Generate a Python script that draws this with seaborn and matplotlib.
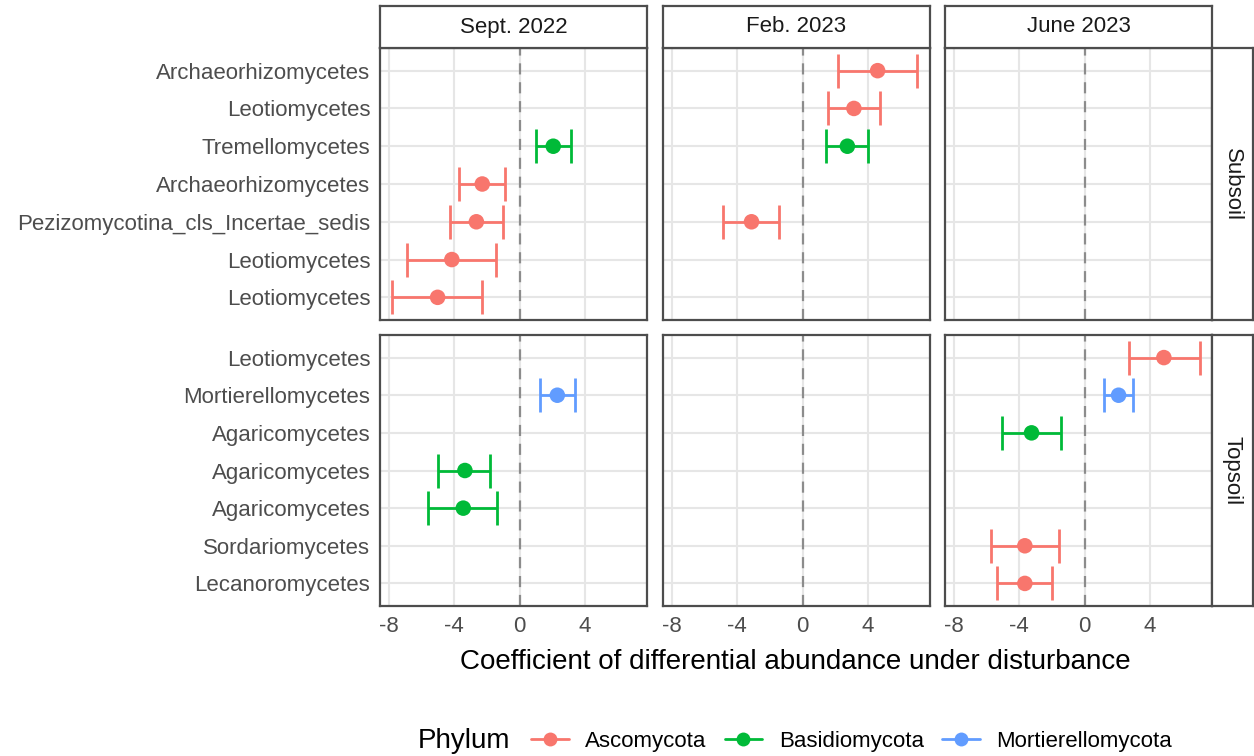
import numpy as np
import pandas as pd
import matplotlib
matplotlib.use("Agg")
import matplotlib.pyplot as plt
from matplotlib.lines import Line2D
import seaborn as sns

# ---------------- data ----------------
depths = ["Subsoil", "Topsoil"]
periods = ["Sept. 2022", "Feb. 2023", "June 2023"]

subsoil_labels = ["Archaeorhizomycetes", "Leotiomycetes", "Tremellomycetes",
                  "Archaeorhizomycetes", "Pezizomycotina_cls_Incertae_sedis",
                  "Leotiomycetes", "Leotiomycetes"]
topsoil_labels = ["Leotiomycetes", "Mortierellomycetes", "Agaricomycetes",
                  "Agaricomycetes", "Agaricomycetes", "Sordariomycetes",
                  "Lecanoromycetes"]

depth = ["Subsoil"] * 9 + ["Topsoil"] * 8
period = (["Sept. 2022"] * 5 + ["Feb. 2023"] * 4 +
          ["Sept. 2022"] * 3 + ["June 2023"] * 5)
row = [2, 3, 4, 5, 6, 0, 1, 2, 4, 1, 3, 4, 0, 1, 2, 5, 6]
phylum = ["Basidiomycota", "Ascomycota", "Ascomycota", "Ascomycota", "Ascomycota",
          "Ascomycota", "Ascomycota", "Basidiomycota", "Ascomycota",
          "Mortierellomycota", "Basidiomycota", "Basidiomycota",
          "Ascomycota", "Mortierellomycota", "Basidiomycota", "Ascomycota", "Ascomycota"]
coef = [2.05, -2.29, -2.65, -4.15, -5.02,
        4.58, 3.13, 2.73, -3.13,
        2.30, -3.35, -3.45,
        4.84, 2.07, -3.25, -3.66, -3.66]
lower = [0.98, -3.71, -4.27, -6.90, -7.80,
         2.16, 1.55, 1.45, -4.85,
         1.24, -4.97, -5.58,
         2.68, 1.18, -5.08, -5.75, -5.34]
upper = [3.14, -0.88, -1.04, -1.44, -2.29,
         7.00, 4.75, 4.00, -1.42,
         3.37, -1.80, -1.38,
         7.04, 2.95, -1.42, -1.59, -2.03]

phyla = ["Ascomycota", "Basidiomycota", "Mortierellomycota"]
palette = {"Ascomycota": "#F8766D", "Basidiomycota": "#00BA38",
           "Mortierellomycota": "#619CFF"}
x_ticks = [-8, -4, 0, 4]

df = pd.DataFrame({"depth": depth, "period": period, "row": row,
                   "phylum": phylum, "coef": coef, "lower": lower, "upper": upper})

# ---------------- style ----------------
sns.set_theme(style="white")
plt.rcParams["font.family"] = ["Liberation Sans", "DejaVu Sans"]

W, H = 1254, 756
fig = plt.figure(figsize=(W / 100, H / 100), dpi=100)
fig.patch.set_facecolor("white")

def px_axes(x0, y_top, w, h):
    return fig.add_axes([x0 / W, (H - y_top - h) / H, w / W, h / H])

col_x = [380, 663, 945]
col_w = 267
row_top = [48, 335]
row_h = [272, 271]

xmin = min(lower); xmax = max(upper)
pad = 0.05 * (xmax - xmin)
xlim = (xmin - pad, xmax + pad)

border_col = "#4D4D4D"
grid_col = "#E6E6E6"
tick_text = "#4D4D4D"

for r, d in enumerate(depths):
    labels = subsoil_labels if d == "Subsoil" else topsoil_labels
    for c, p in enumerate(periods):
        ax = px_axes(col_x[c], row_top[r], col_w, row_h[r])
        ax.set_facecolor("white")
        sub = df[(df.depth == d) & (df.period == p)]
        ax.set_xlim(*xlim)
        ax.set_ylim(6.6, -0.6)
        ax.set_xticks(x_ticks)
        ax.set_yticks(range(len(labels)))
        for xv in x_ticks:
            ax.axvline(xv, color=grid_col, lw=1.5, zorder=0)
        for yv in range(len(labels)):
            ax.axhline(yv, color=grid_col, lw=1.5, zorder=0)
        ax.axvline(0, color="#8C8C8C", lw=1.6, ls=(0, (5, 3.5)), zorder=1)
        for _, rr in sub.iterrows():
            ax.errorbar(rr.coef, rr.row,
                        xerr=[[rr.coef - rr.lower], [rr.upper - rr.coef]],
                        fmt="none", ecolor=palette[rr.phylum], elinewidth=2.0,
                        capsize=12, capthick=2.0, zorder=2)
        if len(sub):
            sns.scatterplot(data=sub, x="coef", y="row", hue="phylum",
                            palette=palette, s=125, edgecolor="none",
                            legend=False, ax=ax, zorder=3)
        ax.set_xlabel(""); ax.set_ylabel("")
        for s in ax.spines.values():
            s.set_color(border_col); s.set_linewidth(1.6); s.set_visible(True)
        ax.tick_params(axis="both", which="both", length=4, width=1.2,
                       color="#333333", labelcolor=tick_text, labelsize=16, pad=3)
        if c == 0:
            ax.set_yticklabels(labels)
        else:
            ax.tick_params(axis="y", left=False, labelleft=False)
        if r == 1:
            ax.set_xticklabels([str(v) for v in x_ticks])
        else:
            ax.tick_params(axis="x", bottom=False, labelbottom=False)
        ax.grid(False)

# top strips
for c, p in enumerate(periods):
    sax = px_axes(col_x[c], 6, col_w, 42)
    sax.set_xticks([]); sax.set_yticks([])
    sax.set_facecolor("white")
    for s in sax.spines.values():
        s.set_color(border_col); s.set_linewidth(1.6)
    sax.text(0.5, 0.5, p, ha="center", va="center", fontsize=16,
             color="#1A1A1A", transform=sax.transAxes)

# right strips
for r, d in enumerate(depths):
    sax = px_axes(1212, row_top[r], 41, row_h[r])
    sax.set_xticks([]); sax.set_yticks([])
    sax.set_facecolor("white")
    for s in sax.spines.values():
        s.set_color(border_col); s.set_linewidth(1.6)
    sax.text(0.5, 0.5, d, ha="center", va="center", fontsize=16, rotation=-90,
             color="#1A1A1A", transform=sax.transAxes)

# axis title
fig.text((380 + 1211) / 2 / W, 1 - 662 / H,
         "Coefficient of differential abundance under disturbance",
         ha="center", va="center", fontsize=20, color="black")

# legend
fig.text(418 / W, 1 - 741 / H, "Phylum", ha="left", va="center",
         fontsize=20, color="black")
handles = [Line2D([0], [0], color=palette[k], lw=2.0, marker="o",
                  markersize=10, markeredgewidth=0) for k in phyla]
fig.legend(handles, phyla, loc="center left", ncol=3, frameon=False,
           bbox_to_anchor=(511 / W, 1 - 741 / H), fontsize=16,
           handlelength=1.7, handletextpad=0.75, columnspacing=0.8,
           labelcolor="black")

fig.savefig("out.png", dpi=100, facecolor="white")
